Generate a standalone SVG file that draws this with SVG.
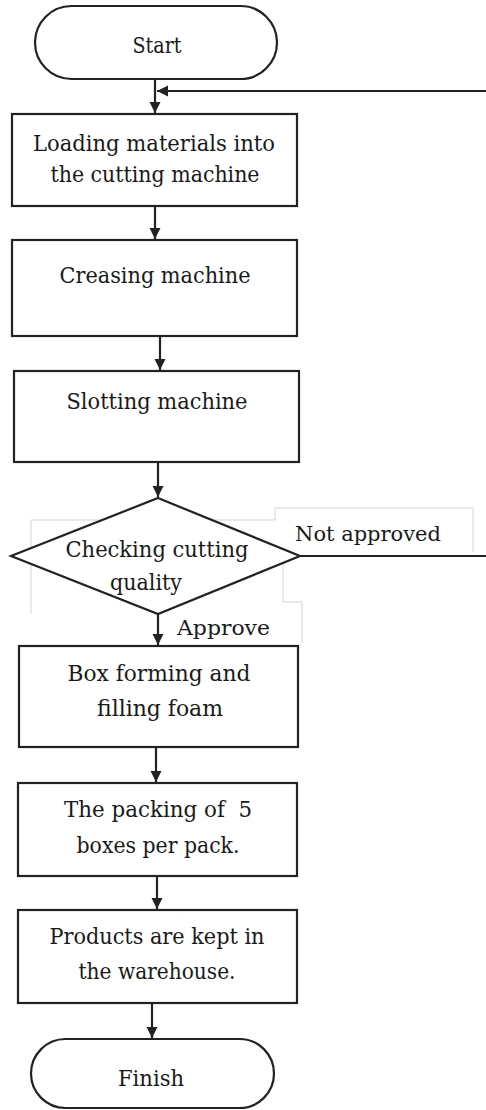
<svg xmlns="http://www.w3.org/2000/svg" width="486" height="1110" viewBox="0 0 486 1110">
<style>
.n{fill:#fff;stroke:#222;stroke-width:2.2}
.t{font-family:"DejaVu Serif","Liberation Serif",serif;font-size:22px;fill:#1a1a1a;text-anchor:middle;white-space:pre}
.l{font-family:"DejaVu Serif","Liberation Serif",serif;font-size:21px;fill:#1a1a1a}
.c{fill:none;stroke:#222;stroke-width:2.2}
.g{fill:none;stroke:#d4d4d4;stroke-width:1}
</style>
<defs>
<marker id="ah" markerUnits="userSpaceOnUse" markerWidth="11" markerHeight="12" viewBox="0 0 11 12" refX="11" refY="6" orient="auto">
<path d="M0,0.5 L11,6 L0,11.5 Z" fill="#222"/>
</marker>
</defs>
<rect width="486" height="1110" fill="#fff"/>
<g id="faint-boxes">
<polyline class="g" points="31,614 31,520 275,520 275,508 473,508 473,552"/>
<polyline class="g" points="283,557 283,602 302,602 302,643"/>
</g>
<g id="connectors">
<line class="c" x1="155" y1="79" x2="155" y2="113" marker-end="url(#ah)"/>
<line class="c" x1="486" y1="91" x2="157" y2="91" marker-end="url(#ah)"/>
<line class="c" x1="155" y1="206" x2="155" y2="239" marker-end="url(#ah)"/>
<line class="c" x1="160" y1="336" x2="160" y2="370" marker-end="url(#ah)"/>
<line class="c" x1="158" y1="462" x2="158" y2="497" marker-end="url(#ah)"/>
<line class="c" x1="300" y1="556" x2="486" y2="556"/>
<line class="c" x1="158" y1="614" x2="158" y2="645" marker-end="url(#ah)"/>
<line class="c" x1="156" y1="747" x2="156" y2="782" marker-end="url(#ah)"/>
<line class="c" x1="157" y1="876" x2="157" y2="909" marker-end="url(#ah)"/>
<line class="c" x1="152" y1="1003" x2="152" y2="1038" marker-end="url(#ah)"/>
<text class="l" x="295" y="541" textLength="146" lengthAdjust="spacingAndGlyphs">Not approved</text>
<text class="l" x="177" y="635" textLength="93" lengthAdjust="spacingAndGlyphs">Approve</text>
</g>
<g id="start">
<rect class="n" x="35" y="6" width="242" height="73" rx="36.5"/>
<text class="t" x="157" y="53" textLength="49" lengthAdjust="spacingAndGlyphs">Start</text>
</g>
<g id="loading">
<rect class="n" x="12" y="114" width="285" height="92"/>
<text class="t" x="154" y="151" textLength="242" lengthAdjust="spacingAndGlyphs">Loading materials into</text>
<text class="t" x="155" y="182" textLength="209" lengthAdjust="spacingAndGlyphs">the cutting machine</text>
</g>
<g id="creasing">
<rect class="n" x="12" y="240" width="285" height="96"/>
<text class="t" x="155" y="283" textLength="191" lengthAdjust="spacingAndGlyphs">Creasing machine</text>
</g>
<g id="slotting">
<rect class="n" x="14" y="371" width="285" height="91"/>
<text class="t" x="157" y="409" textLength="181" lengthAdjust="spacingAndGlyphs">Slotting machine</text>
</g>
<g id="check">
<polygon class="n" points="158,498 300,556 158,614 11,556"/>
<text class="t" x="157" y="557" textLength="183" lengthAdjust="spacingAndGlyphs">Checking cutting</text>
<text class="t" x="146" y="590" textLength="72" lengthAdjust="spacingAndGlyphs">quality</text>
</g>
<g id="forming">
<rect class="n" x="19" y="646" width="279" height="101"/>
<text class="t" x="159" y="681" textLength="183" lengthAdjust="spacingAndGlyphs">Box forming and</text>
<text class="t" x="160" y="716" textLength="126" lengthAdjust="spacingAndGlyphs">filling foam</text>
</g>
<g id="packing">
<rect class="n" x="18" y="783" width="279" height="93"/>
<text class="t" x="158" y="817" textLength="188" lengthAdjust="spacingAndGlyphs">The packing of  5</text>
<text class="t" x="158" y="853" textLength="163" lengthAdjust="spacingAndGlyphs">boxes per pack.</text>
</g>
<g id="warehouse">
<rect class="n" x="18" y="910" width="279" height="93"/>
<text class="t" x="157" y="944" textLength="215" lengthAdjust="spacingAndGlyphs">Products are kept in</text>
<text class="t" x="157" y="979" textLength="157" lengthAdjust="spacingAndGlyphs">the warehouse.</text>
</g>
<g id="finish">
<rect class="n" x="31" y="1039" width="243" height="69" rx="34.5"/>
<text class="t" x="151" y="1086" textLength="66" lengthAdjust="spacingAndGlyphs">Finish</text>
</g>
</svg>
